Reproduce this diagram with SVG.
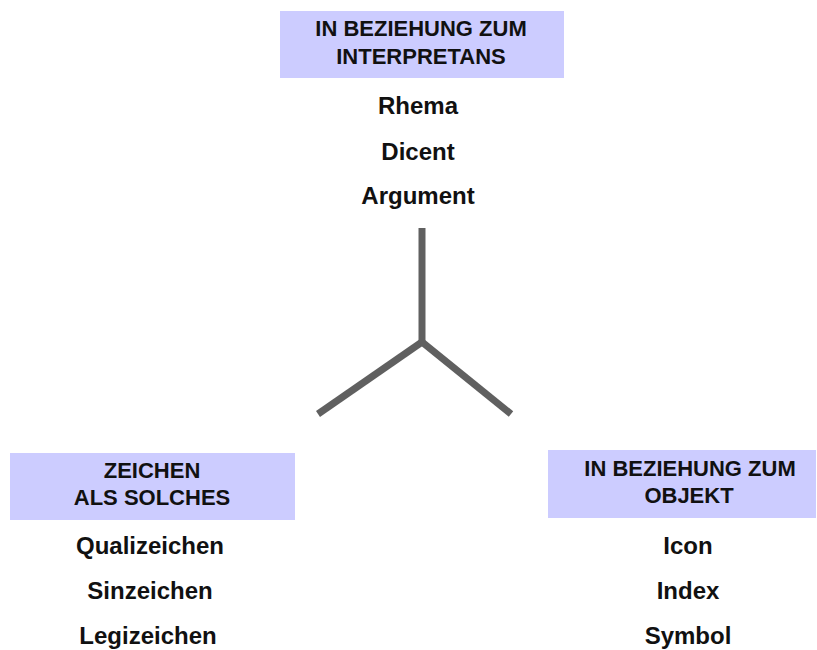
<svg xmlns="http://www.w3.org/2000/svg" width="817" height="650" viewBox="0 0 817 650">
  <style>
    .box { fill: #ccccff; }
    .head { font-family: "Liberation Sans", Arial, sans-serif; font-weight: bold; font-size: 22px; fill: #111; text-anchor: middle; }
    .item { font-family: "Liberation Sans", Arial, sans-serif; font-weight: bold; font-size: 24px; fill: #111; text-anchor: middle; }
    .link { stroke: #606060; stroke-width: 7; fill: none; }
  </style>
  <rect width="817" height="650" fill="#ffffff"/>

  <g id="connectors">
    <line class="link" x1="422" y1="228" x2="422" y2="342"/>
    <line class="link" x1="422" y1="342" x2="318" y2="414"/>
    <line class="link" x1="422" y1="342" x2="511" y2="414"/>
  </g>

  <g id="interpretant">
    <rect class="box" x="280" y="11" width="284" height="67"/>
    <text class="head" x="421" y="36">IN BEZIEHUNG ZUM</text>
    <text class="head" x="421" y="64">INTERPRETANS</text>
    <text class="item" x="418" y="114">Rhema</text>
    <text class="item" x="418" y="160">Dicent</text>
    <text class="item" x="418" y="204">Argument</text>
  </g>

  <g id="sign">
    <rect class="box" x="10" y="453" width="285" height="67"/>
    <text class="head" x="152" y="478">ZEICHEN</text>
    <text class="head" x="152" y="505">ALS SOLCHES</text>
    <text class="item" x="150" y="554">Qualizeichen</text>
    <text class="item" x="150" y="599">Sinzeichen</text>
    <text class="item" x="148" y="644">Legizeichen</text>
  </g>

  <g id="object">
    <rect class="box" x="548" y="450" width="268" height="68"/>
    <text class="head" x="690" y="476">IN BEZIEHUNG ZUM</text>
    <text class="head" x="689" y="503">OBJEKT</text>
    <text class="item" x="688" y="554">Icon</text>
    <text class="item" x="688" y="599">Index</text>
    <text class="item" x="688" y="644">Symbol</text>
  </g>
</svg>
